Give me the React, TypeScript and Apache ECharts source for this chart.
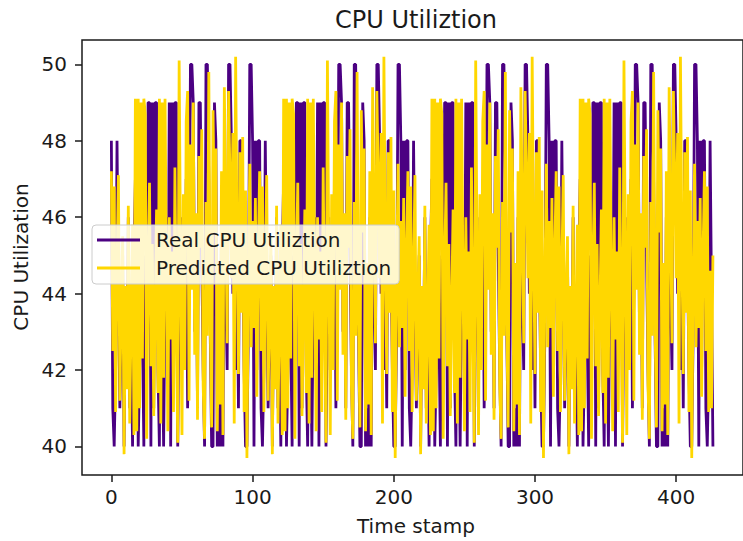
import React, { useEffect, useRef } from "react";
import * as echarts from "echarts";

// One repeating cycle (105 time stamps); the plot repeats it 4 times plus a short tail.
const realCycle = [
  48, 41, 40, 42, 48, 44, 41, 43, 45, 40,
  44, 42, 46, 41, 43, 40, 45, 47, 47, 40,
  42, 46, 43, 40, 45, 43, 49, 49, 40, 49,
  41, 49, 49, 42, 40, 46, 43, 40, 44, 46,
  42, 49, 40, 49, 43, 49, 49, 40, 44, 46,
  42, 45, 43, 47, 41, 44, 50, 50, 49, 43,
  46, 41, 49, 49, 45, 42, 40, 50, 50, 47,
  43, 40, 40, 49, 48, 40, 41, 40, 46, 40,
  47, 44, 42, 50, 50, 48, 44, 46, 42, 45,
  41, 48, 48, 45, 42, 40, 40, 43, 50, 50,
  48, 40, 48, 42, 48,
];

const predictedCycle = [
  47.2, 42.5, 46.8, 40.9, 44.6, 47.1, 41.2, 43.8, 45.5, 39.8,
  44.2, 41.5, 46.3, 40.6, 43.4, 45.8, 40.3, 49.1, 40.4, 49.1,
  41.0, 49.0, 42.3, 49.1, 48.7, 40.2, 44.7, 46.9, 42.1, 45.3,
  40.8, 43.6, 46.2, 41.4, 49.1, 40.6, 49.0, 41.8, 49.1, 44.5,
  40.4, 46.0, 42.8, 45.1, 40.9, 47.3, 43.2, 40.1, 50.1, 44.9,
  40.3, 46.6, 42.0, 48.5, 49.3, 41.2, 47.9, 44.1, 49.0, 42.4,
  46.1, 40.7, 47.6, 45.2, 48.3, 41.6, 40.2, 46.4, 42.9, 49.8,
  43.3, 40.5, 48.8, 45.6, 47.8, 40.4, 44.8, 41.1, 47.2, 40.3,
  49.4, 46.1, 42.7, 49.3, 47.0, 44.4, 48.2, 40.6, 50.2, 45.3,
  41.9, 47.7, 43.5, 48.1, 40.9, 46.7, 39.7, 44.2, 47.4, 42.6,
  45.9, 43.1, 46.5, 41.3, 45.0,
];

// Last few points after the fourth cycle
const realTail = [48, 41, 40, 42, 48, 44, 40];
const predictedTail = [47.2, 42.5, 46.8, 40.9, 44.6, 41.0, 45.0];

const realValues = [
  ...realCycle,
  ...realCycle,
  ...realCycle,
  ...realCycle,
  ...realTail,
];
const predictedValues = [
  ...predictedCycle,
  ...predictedCycle,
  ...predictedCycle,
  ...predictedCycle,
  ...predictedTail,
];

const xTicks = [0, 100, 200, 300, 400];
const yTicks = [40, 42, 44, 46, 48, 50];
const titleText = "CPU Utiliztion";
const xAxisTitle = "Time stamp";
const yAxisTitle = "CPU Utilization";
const seriesNames = ["Real CPU Utiliztion", "Predicted CPU Utiliztion"];

const FONT = "DejaVu Sans";
const TEXT_COLOR = "#1a1a1a";

export default function App() {
  const ref = useRef<HTMLDivElement>(null);

  useEffect(() => {
    if (!ref.current) return;
    const chart = echarts.init(ref.current, null, { renderer: "svg" });

    const realData = realValues.map((v, i) => [i, v]);
    const predData = predictedValues.map((v, i) => [i, v]);

    chart.setOption({
      animation: false,
      backgroundColor: "#ffffff",
      grid: {
        left: 82,
        top: 40,
        right: -7,
        bottom: 66,
        show: true,
        borderColor: "#1a1a1a",
        borderWidth: 1.5,
        backgroundColor: "transparent",
      },
      xAxis: {
        type: "value",
        min: -20.8,
        max: 447.3,
        splitLine: { show: false },
        axisLine: { show: false, onZero: false },
        axisTick: {
          show: true,
          length: 7,
          customValues: xTicks,
          lineStyle: { color: "#1a1a1a", width: 1.5 },
        },
        axisLabel: {
          customValues: xTicks,
          margin: 12,
          fontSize: 20,
          fontFamily: FONT,
          color: TEXT_COLOR,
        },
      },
      yAxis: {
        type: "value",
        min: 39.254,
        max: 50.636,
        splitLine: { show: false },
        axisLine: { show: false, onZero: false },
        axisTick: {
          show: true,
          length: 7,
          customValues: yTicks,
          lineStyle: { color: "#1a1a1a", width: 1.5 },
        },
        axisLabel: {
          customValues: yTicks,
          margin: 15,
          fontSize: 20,
          fontFamily: FONT,
          color: TEXT_COLOR,
        },
      },
      legend: {
        data: seriesNames,
        orient: "vertical",
        left: 92,
        top: 225,
        icon: "rect",
        itemWidth: 43,
        itemHeight: 3,
        itemGap: 8,
        padding: [5, 8, 6, 5],
        backgroundColor: "rgba(255,255,255,0.8)",
        borderColor: "#cccccc",
        borderWidth: 1,
        borderRadius: 4,
        selectedMode: false,
        textStyle: {
          fontSize: 20,
          fontFamily: FONT,
          color: TEXT_COLOR,
          padding: [0, 0, 0, 11],
        },
      },
      graphic: [
        {
          type: "text",
          x: 416,
          y: 20,
          style: {
            text: titleText,
            fontSize: 24,
            fontFamily: FONT,
            fill: TEXT_COLOR,
            align: "center",
            verticalAlign: "middle",
          },
        },
        {
          type: "text",
          x: 416,
          y: 526,
          style: {
            text: xAxisTitle,
            fontSize: 20,
            fontFamily: FONT,
            fill: TEXT_COLOR,
            align: "center",
            verticalAlign: "middle",
          },
        },
        {
          type: "text",
          x: 21,
          y: 257,
          rotation: Math.PI / 2,
          style: {
            text: yAxisTitle,
            fontSize: 20,
            fontFamily: FONT,
            fill: TEXT_COLOR,
            align: "center",
            verticalAlign: "middle",
          },
        },
      ],
      series: [
        {
          name: seriesNames[0],
          type: "line",
          data: realData,
          showSymbol: false,
          silent: true,
          color: "#4B0082",
          lineStyle: { color: "#4B0082", width: 2.8 },
          emphasis: { disabled: true },
          z: 2,
        },
        {
          name: seriesNames[1],
          type: "line",
          data: predData,
          showSymbol: false,
          silent: true,
          color: "#FFD700",
          lineStyle: { color: "#FFD700", width: 2.8 },
          emphasis: { disabled: true },
          z: 3,
        },
      ],
    });

    return () => chart.dispose();
  }, []);

  return (
    <div
      ref={ref}
      style={{ position: "fixed", left: 0, top: 0, width: 743, height: 541 }}
    />
  );
}
